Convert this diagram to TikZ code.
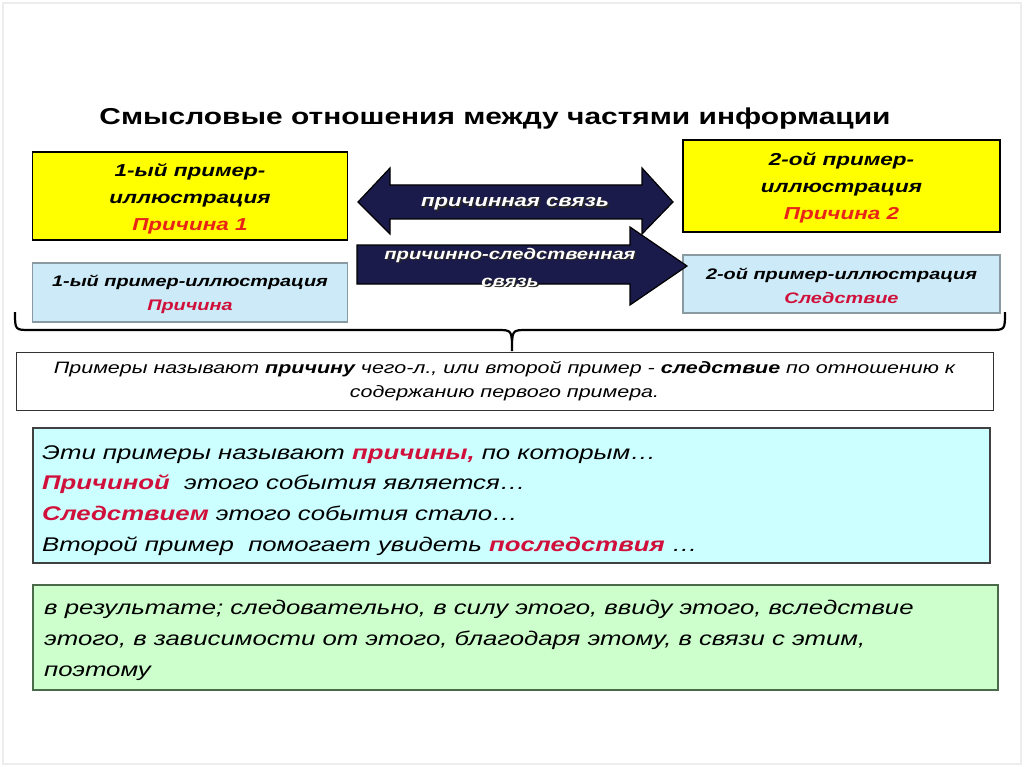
\documentclass[tikz,border=0pt]{standalone}
\usepackage{fontspec}
\setmainfont{Liberation Sans}[FakeStretch=1.3]
\definecolor{ybox}{HTML}{FFFF00}
\definecolor{bbox}{HTML}{CCEAF7}
\definecolor{bborder}{HTML}{8A9AA2}
\definecolor{navy}{HTML}{1B1B4B}
\definecolor{redA}{HTML}{E82418}
\definecolor{redB}{HTML}{D0103A}
\definecolor{cyanbox}{HTML}{CCFFFF}
\definecolor{greenbox}{HTML}{CCFFCC}
\definecolor{greenborder}{HTML}{4A6A4A}
\definecolor{frame}{HTML}{EDEDED}
\tikzset{
  yellowbox/.style={draw=black, line width=1.6pt, fill=ybox, align=center, inner sep=0pt,
    font=\fontsize{17.3}{27}\selectfont\bfseries\itshape},
  bluebox/.style={draw=bborder, line width=1.6pt, fill=bbox, align=center, inner sep=0pt,
    font=\fontsize{15.3}{24}\selectfont\bfseries\itshape},
  boxtext/.style={draw=none, fill=none},
  blockarrow/.style={draw=black, line width=1.2pt, fill=navy},
  arrowtext/.style={text=white, font=\fontsize{15.5}{27}\selectfont\bfseries\itshape, inner sep=0pt},
  arrowshadow/.style={arrowtext, text=black!85},
  notebox/.style={draw=black!80, line width=1pt, fill=white, align=center, inner sep=0pt,
    font=\fontsize{16.5}{24}\selectfont\itshape},
  listbox/.style={line width=1.2pt, inner sep=0pt},
  listtext/.style={anchor=north west, align=left, inner sep=0pt,
    font=\fontsize{19.8}{30.8}\selectfont\itshape},
  brace/.style={draw=black, line width=2.2pt}
}
\begin{document}
\begin{tikzpicture}[x=1pt,y=-1pt]
\useasboundingbox (0,0) rectangle (1024,767);
\fill[white] (0,0) rectangle (1024,767);
\draw[frame, line width=1.5pt] (3,3) rectangle (1021,764);

% title
\node[font=\fontsize{23}{28}\selectfont\bfseries] (title) at (495,119)
  {Смысловые отношения между частями информации};

% yellow boxes
\node[yellowbox, minimum width=315pt, minimum height=88pt] (y1) at (190,196) {};
\node[yellowbox, boxtext] (y1t) at (190,199)
  {1-ый пример-\\иллюстрация\\\textcolor{redA}{Причина 1}};
\node[yellowbox, minimum width=317pt, minimum height=92pt] (y2) at (841.5,186) {};
\node[yellowbox, boxtext] (y2t) at (841.5,188)
  {2-ой пример-\\иллюстрация\\\textcolor{redA}{Причина 2}};

% blue boxes
\node[bluebox, minimum width=315pt, minimum height=59pt] (b1) at (190,292.5) {};
\node[bluebox, boxtext] (b1t) at (190,294.5)
  {1-ый пример-иллюстрация\\\textcolor{redB}{Причина}};
\node[bluebox, minimum width=317pt, minimum height=58pt] (b2) at (841.5,284) {};
\node[bluebox, boxtext] (b2t) at (841.5,286)
  {2-ой пример-иллюстрация\\\textcolor{redB}{Следствие}};

% upper double arrow
\draw[blockarrow] (358,202) -- (390,168) -- (390,185) -- (642,185) -- (642,168)
  -- (673,202) -- (642,234) -- (642,219) -- (390,219) -- (390,234) -- cycle;
\node[arrowshadow, font=\fontsize{17}{27}\selectfont\bfseries\itshape] (a1s) at (516.5,205.5) {причинная связь};
\node[arrowtext, font=\fontsize{17}{27}\selectfont\bfseries\itshape] (a1) at (515,204) {причинная связь};

% lower single arrow
\draw[blockarrow] (357,245) -- (630,245) -- (630,227) -- (687,266) -- (630,305)
  -- (630,284) -- (357,284) -- cycle;
\node[arrowshadow, align=center] (a2s) at (511.5,268.5) {причинно-следственная\\связь};
\node[arrowtext, align=center] (a2) at (510,267) {причинно-следственная\\связь};

% note box
\node[notebox, minimum width=977pt, minimum height=58pt] (note) at (504.5,381)
  {Примеры называют \textbf{причину} чего-л., или второй пример - \textbf{следствие} по отношению к\\содержанию первого примера.};

% brace
\coordinate (bl) at (15,312);
\coordinate (br) at (1005,312);
\draw[brace] (bl) .. controls (15,330) and (15,330) .. (30,330) -- (497,330)
  .. controls (512,330) and (512,330) .. (512,351) (512,351)
  .. controls (512,330) and (512,330) .. (527,330) -- (990,330)
  .. controls (1005,330) and (1005,330) .. (br);

% cyan box
\node[listbox, draw=black!75, fill=cyanbox, minimum width=957pt, minimum height=135pt] (cy) at (511.5,495.5) {};
\node[listtext] (cytext) at (42,445)
  {Эти примеры называют \textcolor{redB}{\bfseries причины,} по которым…\\
   \textcolor{redB}{\bfseries Причиной}\ \ этого события является…\\
   \textcolor{redB}{\bfseries Следствием} этого события стало…\\
   Второй пример\ \ помогает увидеть \textcolor{redB}{\bfseries последствия} …};

% green box
\node[listbox, draw=greenborder, fill=greenbox, minimum width=965pt, minimum height=105pt] (gr) at (515.5,637.5) {};
\node[listtext] (grtext) at (44,600)
  {в результате; следовательно, в силу этого, ввиду этого, вследствие\\
   этого, в зависимости от этого, благодаря этому, в связи с этим,\\
   поэтому};
\end{tikzpicture}
\end{document}
